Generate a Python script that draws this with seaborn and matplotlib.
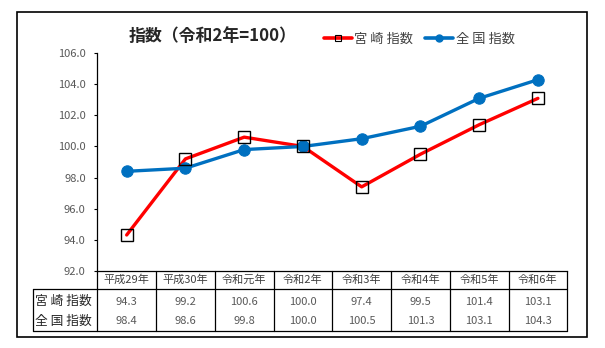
import numpy as np
import pandas as pd
import matplotlib
matplotlib.use("Agg")
import matplotlib.pyplot as plt
import matplotlib.transforms as mtransforms
from matplotlib.lines import Line2D
from matplotlib.patches import Rectangle
import seaborn as sns

# Index values (Reiwa 2 = 100)
categories = ["平成29年", "平成30年", "令和元年", "令和2年", "令和3年", "令和4年", "令和5年", "令和6年"]
miyazaki = [94.3, 99.2, 100.6, 100.0, 97.4, 99.5, 101.4, 103.1]
national = [98.4, 98.6, 99.8, 100.0, 100.5, 101.3, 103.1, 104.3]
series_labels = ["宮 崎 指数", "全 国 指数"]
y_ticks = [92.0, 94.0, 96.0, 98.0, 100.0, 102.0, 104.0, 106.0]

RED = "#FF0000"
BLUE = "#0070C0"
GRAY = "#595959"
DARK = "#404040"

sns.set_theme(style="white")
plt.rcParams["font.family"] = ["Noto Sans CJK JP", "DejaVu Sans"]

W, H = 605, 348
fig = plt.figure(figsize=(W / 100, H / 100), dpi=100)


def fx(px):
    return px / W


def fy(py):
    return 1 - py / H


ax_left, ax_right, ax_top, ax_bottom = 97.3, 567.3, 53.3, 270.7
ax = fig.add_axes([fx(ax_left), fy(ax_bottom), fx(ax_right - ax_left), (ax_bottom - ax_top) / H])

df = pd.DataFrame({"pos": np.arange(len(categories)), "miyazaki": miyazaki, "national": national})

# Miyazaki line underneath, national line with markers, then Miyazaki square markers on top
sns.lineplot(data=df, x="pos", y="miyazaki", color=RED, lw=2.4, ax=ax, zorder=2)
sns.lineplot(data=df, x="pos", y="national", color=BLUE, lw=2.4, marker="o",
             markersize=8.2, markeredgecolor=BLUE, ax=ax, zorder=3)
sns.lineplot(data=df, x="pos", y="miyazaki", linestyle="none", marker="s", markersize=8.3,
             markerfacecolor="none", markeredgecolor="black", markeredgewidth=1.0, ax=ax, zorder=4)

ax.set_xlim(-0.5, len(categories) - 0.5)
ax.set_ylim(92, 106)
ax.set_yticks(y_ticks)
ax.set_yticklabels([f"{v:.1f}" for v in y_ticks], color=GRAY, fontsize=8)
ax.set_xticks([])
ax.set_xlabel("")
ax.set_ylabel("")
ax.tick_params(axis="y", left=True, length=2.4, width=0.8, color="black", pad=6)
for side in ["top", "right"]:
    ax.spines[side].set_visible(False)
for side in ["left", "bottom"]:
    ax.spines[side].set_color("black")
    ax.spines[side].set_linewidth(0.9)
ax.patch.set_alpha(0)

# Data table beneath the plot
trans = mtransforms.blended_transform_factory(ax.transData, fig.transFigure)
y_hdr_bot, y_row1, y_row2, y_tab_bot = 289.3, 301.7, 321.0, 331.0
y_hdr_mid = (ax_bottom + y_hdr_bot) / 2
lab_left = 33.3
lw_tab = 0.9

for b in np.arange(len(categories) + 1) - 0.5:
    fig.add_artist(Line2D([b, b], [fy(ax_bottom), fy(y_tab_bot)], transform=trans,
                          color="black", lw=lw_tab))
for yy in [y_hdr_bot, y_tab_bot]:
    fig.add_artist(Line2D([fx(lab_left), fx(ax_right)], [fy(yy), fy(yy)],
                          transform=fig.transFigure, color="black", lw=lw_tab))
fig.add_artist(Line2D([fx(lab_left), fx(lab_left)], [fy(y_hdr_bot), fy(y_tab_bot)],
                      transform=fig.transFigure, color="black", lw=lw_tab))

for i, cat in enumerate(categories):
    fig.text(i, fy(y_hdr_mid), cat, transform=trans, ha="center", va="center",
             fontsize=8, color=DARK)
    fig.text(i, fy(y_row1), f"{miyazaki[i]:.1f}", transform=trans, ha="center",
             va="center", fontsize=8, color=GRAY)
    fig.text(i, fy(y_row2), f"{national[i]:.1f}", transform=trans, ha="center",
             va="center", fontsize=8, color=GRAY)

for lab, yy in zip(series_labels, [y_row1, y_row2]):
    fig.text(fx(35), fy(yy), lab, ha="left", va="center", fontsize=9.2, color="#262626")

# Title and legend
fig.text(fx(129), fy(36), "指数（令和2年=100）", ha="left", va="center",
         fontsize=12.2, fontweight="bold", color="#262626")

handles = [
    Line2D([], [], color=RED, lw=2.6, marker="s", markersize=5, markerfacecolor="none",
           markeredgecolor="black", markeredgewidth=0.8),
    Line2D([], [], color=BLUE, lw=2.6, marker="o", markersize=5, markeredgecolor=BLUE),
]
fig.legend(handles, series_labels, loc="center left", bbox_to_anchor=(fx(324), fy(39)),
           ncol=2, frameon=False, fontsize=9.5, handlelength=2.1, handletextpad=0.2,
           columnspacing=0.9, borderpad=0, borderaxespad=0, labelcolor="#404040")

# Outer frame
fig.add_artist(Rectangle((fx(17.3), fy(337.3)), fx(587.3 - 17.3), (337.3 - 12.3) / H,
                         transform=fig.transFigure, fill=False, edgecolor="black", lw=1.2))

fig.savefig("out.png", dpi=100, facecolor="white")
